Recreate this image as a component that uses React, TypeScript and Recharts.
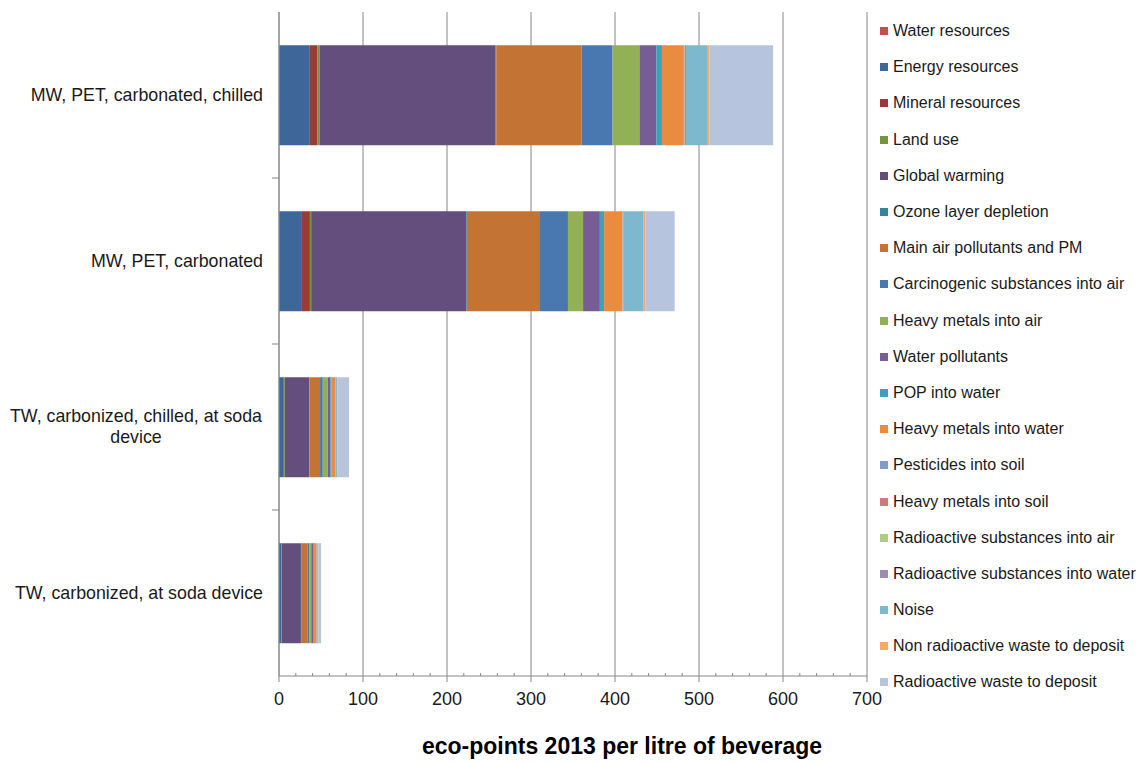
import { Bar, BarChart, CartesianGrid, XAxis, YAxis } from 'recharts'

const categories = [
  'MW, PET, carbonated, chilled',
  'MW, PET, carbonated',
  'TW, carbonized, chilled, at soda device',
  'TW, carbonized, at soda device',
]

const waterResources = [0.3, 0.3, 0.1, 0.1]
const energyResources = [35.7, 27, 5.6, 2.4]
const mineralResources = [9.5, 9.5, 0.2, 0.3]
const landUse = [2.8, 1.5, 1, 0.3]
const globalWarming = [209.5, 184.6, 29, 23]
const ozoneDepletion = [0.8, 0.8, 0.2, 0.2]
const mainAirPollutants = [101.5, 87, 12.8, 8]
const carcinogenicAir = [37, 33.3, 3.2, 1.7]
const heavyMetalsAir = [32, 18, 6, 2.4]
const waterPollutants = [20, 20, 3, 2.4]
const popWater = [6.8, 5, 1, 0.8]
const heavyMetalsWater = [25, 21.5, 5, 3]
const pesticidesSoil = [1, 0.4, 0.2, 0.2]
const heavyMetalsSoil = [0.8, 0.3, 0.2, 0.1]
const radioactiveAir = [0.4, 0.2, 0.1, 0.1]
const radioactiveWater = [1.4, 0.3, 0.3, 0.2]
const noise = [25, 23.8, 1.5, 1]
const nonRadioactiveWaste = [2.8, 3, 0.5, 0.4]
const radioactiveWaste = [76, 34.5, 13.5, 3.5]

const majorTicks = [0, 100, 200, 300, 400, 500, 600, 700]
const allTicks = [
  0, 20, 40, 60, 80, 100, 120, 140, 160, 180, 200, 220, 240, 260, 280, 300, 320, 340, 360, 380, 400,
  420, 440, 460, 480, 500, 520, 540, 560, 580, 600, 620, 640, 660, 680, 700,
]

const SERIES = [
  { name: 'Water resources', values: waterResources, color: '#C0504D' },
  { name: 'Energy resources', values: energyResources, color: '#3D6699' },
  { name: 'Mineral resources', values: mineralResources, color: '#983B39' },
  { name: 'Land use', values: landUse, color: '#77933C' },
  { name: 'Global warming', values: globalWarming, color: '#634E7E' },
  { name: 'Ozone layer depletion', values: ozoneDepletion, color: '#31859C' },
  { name: 'Main air pollutants and PM', values: mainAirPollutants, color: '#C37434' },
  { name: 'Carcinogenic substances into air', values: carcinogenicAir, color: '#4878AF' },
  { name: 'Heavy metals into air', values: heavyMetalsAir, color: '#92B054' },
  { name: 'Water pollutants', values: waterPollutants, color: '#775D96' },
  { name: 'POP into water', values: popWater, color: '#3FA0BB' },
  { name: 'Heavy metals into water', values: heavyMetalsWater, color: '#E98C3F' },
  { name: 'Pesticides into soil', values: pesticidesSoil, color: '#7F9CCB' },
  { name: 'Heavy metals into soil', values: heavyMetalsSoil, color: '#CC7B7A' },
  { name: 'Radioactive substances into air', values: radioactiveAir, color: '#AFCB85' },
  { name: 'Radioactive substances into water', values: radioactiveWater, color: '#9B8BB5' },
  { name: 'Noise', values: noise, color: '#7DB8CE' },
  { name: 'Non radioactive waste to deposit', values: nonRadioactiveWaste, color: '#F4A76E' },
  { name: 'Radioactive waste to deposit', values: radioactiveWaste, color: '#B6C4DD' },
]

const data = categories.map((cat, i) => {
  const row: Record<string, string | number> = { category: cat }
  SERIES.forEach((s) => {
    row[s.name] = s.values[i]
  })
  return row
})

const FONT = '"Liberation Sans", Arial, sans-serif'
const AXIS_GREY = '#868686'
const TEXT = '#1a1a1a'
const CAT_FONT = 17.8

function wrapLabel(text: string): string[] {
  // Excel wraps the long label after "at soda"
  if (text.length <= 31) return [text]
  const idx = text.lastIndexOf(' ')
  return [text.slice(0, idx), text.slice(idx + 1)]
}

function CategoryTick(props: any) {
  const { x, y, payload, index } = props
  const half = payload?.offset ?? 83
  const lines = wrapLabel(String(payload.value))
  const axisX = x + 16
  return (
    <g>
      {index < categories.length - 1 && (
        <line x1={axisX - 7} x2={axisX} y1={y + half} y2={y + half} stroke={AXIS_GREY} />
      )}
      {lines.length === 1 ? (
        <text x={x} y={y} dy={6} textAnchor="end" fontSize={CAT_FONT} fill={TEXT} fontFamily={FONT}>
          {lines[0]}
        </text>
      ) : (
        <text x={x - 127} y={y - 5} textAnchor="middle" fontSize={CAT_FONT} fill={TEXT} fontFamily={FONT}>
          {lines.map((l, i) => (
            <tspan key={i} x={x - 127} dy={i === 0 ? 0 : 21}>
              {l}
            </tspan>
          ))}
        </text>
      )}
    </g>
  )
}

function ValueTick(props: any) {
  const { x, y, payload } = props
  const major = payload.value % 100 === 0
  if (!major) {
    return <line x1={x} x2={x} y1={y - 3} y2={y} stroke={AXIS_GREY} />
  }
  return (
    <g>
      <line x1={x} x2={x} y1={y} y2={y + 6} stroke={AXIS_GREY} />
      <text x={x} y={y + 29} textAnchor="middle" fontSize={18} fill={TEXT} fontFamily={FONT}>
        {payload.value}
      </text>
    </g>
  )
}

function LegendList() {
  return (
    <div style={{ position: 'absolute', left: 880, top: 13, fontFamily: FONT, fontSize: 16, color: TEXT }}>
      {SERIES.map((s) => (
        <div key={s.name} style={{ height: 36.2, display: 'flex', alignItems: 'center', whiteSpace: 'nowrap' }}>
          <span style={{ width: 8, height: 8, background: s.color, marginRight: 5, display: 'inline-block' }} />
          {s.name}
        </div>
      ))}
    </div>
  )
}

export default function App() {
  return (
    <div style={{ position: 'absolute', left: 0, top: 0, width: 1145, height: 763, background: '#fff' }}>
      <BarChart
        width={1145}
        height={763}
        data={data}
        layout="vertical"
        margin={{ top: 12, right: 278, bottom: 57, left: 9 }}
        barCategoryGap="20%"
      >
        <CartesianGrid horizontal={false} stroke={AXIS_GREY} verticalValues={majorTicks} />
        <XAxis
          type="number"
          domain={[0, 700]}
          ticks={allTicks}
          interval={0}
          height={30}
          tickSize={0}
          tickMargin={0}
          tickLine={false}
          axisLine={{ stroke: AXIS_GREY }}
          tick={<ValueTick />}
        />
        <YAxis
          type="category"
          dataKey="category"
          width={270}
          tickLine={false}
          tickSize={6}
          axisLine={{ stroke: AXIS_GREY }}
          tickMargin={10}
          tick={<CategoryTick />}
          interval={0}
        />
        {SERIES.map((s) => (
          <Bar key={s.name} dataKey={s.name} stackId="a" fill={s.color} isAnimationActive={false} />
        ))}
      </BarChart>
      <LegendList />
      <div
        style={{
          position: 'absolute',
          left: 622,
          top: 733,
          transform: 'translateX(-50%)',
          whiteSpace: 'nowrap',
          fontFamily: FONT,
          fontSize: 23,
          fontWeight: 'bold',
          color: '#000',
        }}
      >
        eco-points 2013 per litre of beverage
      </div>
    </div>
  )
}
